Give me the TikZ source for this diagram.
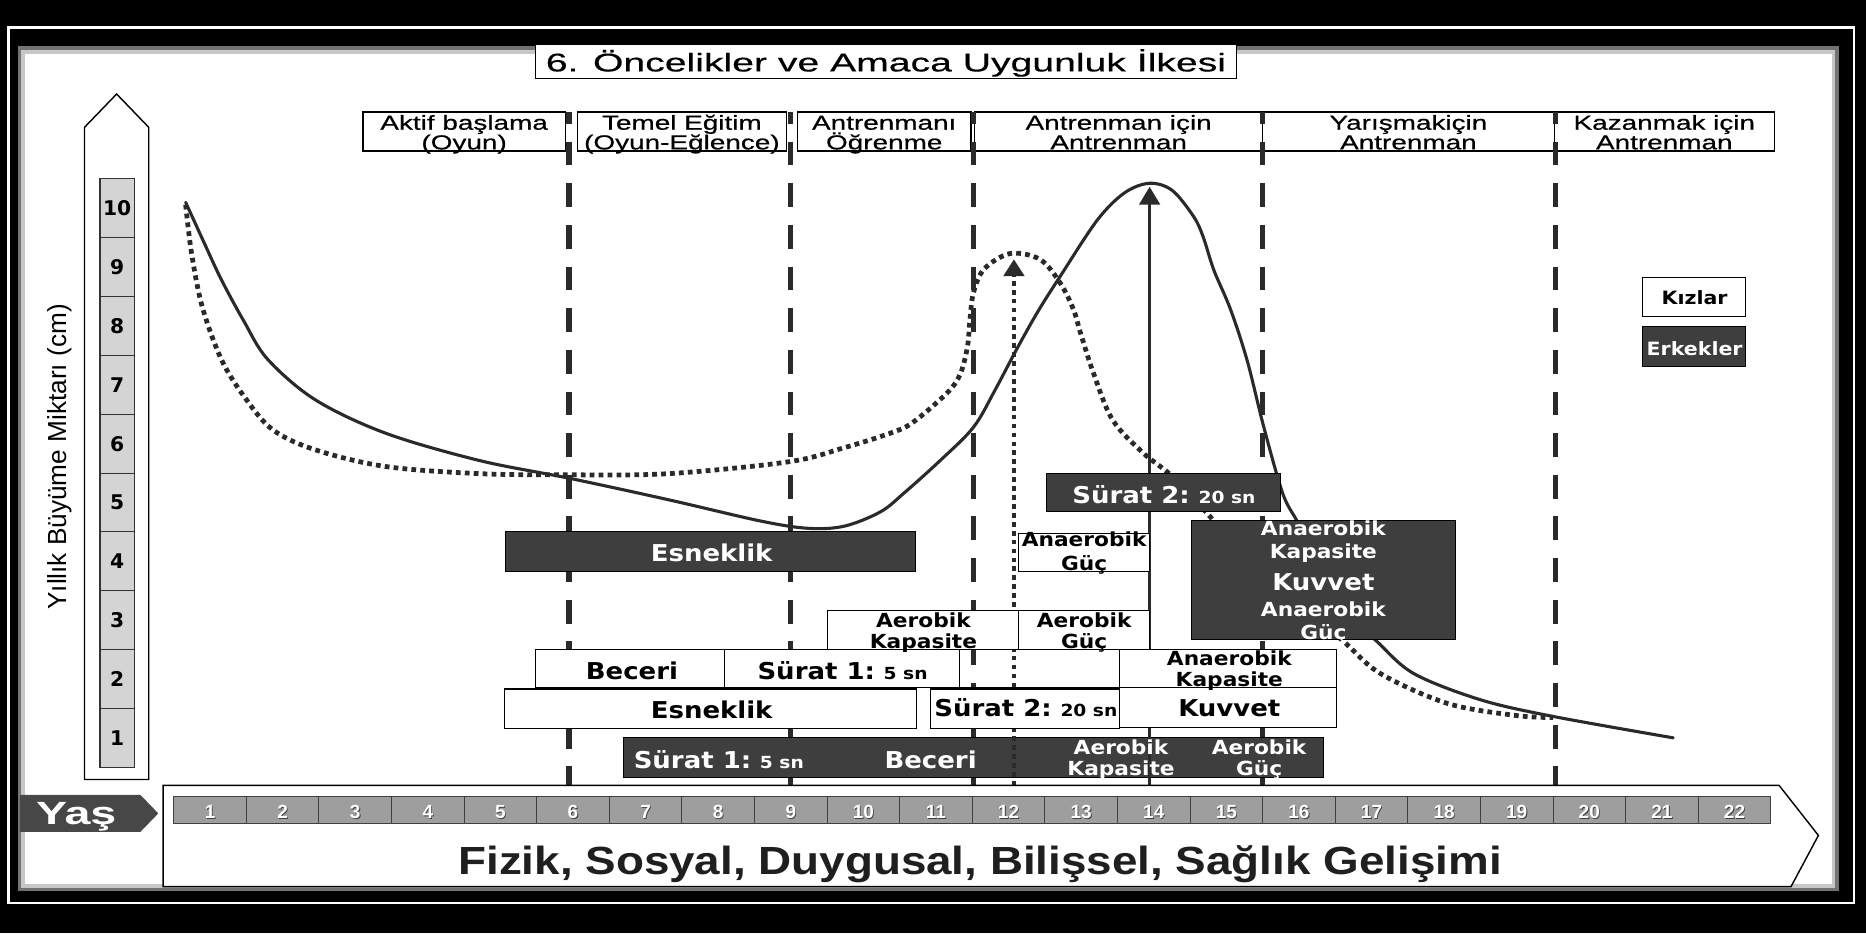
\documentclass[tikz,border=0pt]{standalone}
\usepackage{fontspec}
\setmainfont{Liberation Sans}
\newfontfamily\ttlf[FakeStretch=1.53,FakeBold=0.4]{Liberation Sans}
\newfontfamily\hdrf[FakeStretch=1.38,FakeBold=0.6]{Liberation Sans}
\newfontfamily\btmf[FakeStretch=1.166]{Liberation Sans}
\newfontfamily\yasf[FakeStretch=1.45]{Liberation Sans}
\newfontfamily\bxf[FakeStretch=1.12]{DejaVu Sans}
\newfontfamily\numf{DejaVu Sans}
\usetikzlibrary{arrows.meta}
\definecolor{dk}{HTML}{3E3E3E}
\definecolor{ln}{HTML}{2A2A2A}
\definecolor{cellg}{HTML}{9E9E9E}
\definecolor{lcell}{HTML}{D4D4D4}
\newcommand{\fs}[1]{\fontsize{#1}{#1}\selectfont}
\newcommand{\bxn}[5]{\node[#1,anchor=north west,inner sep=0pt,outer sep=0pt,minimum width=#4,minimum height=#5] (#2) at (#3) {};}
\tikzset{
  wbox/.style={draw=black, line width=1pt, fill=white},
  ebox/.style={draw=black, line width=1pt},
  dbox/.style={draw=black, line width=0.8pt, fill=dk},
  hbox/.style={draw=black, line width=1.1pt, fill=white},
  tx/.style={inner sep=0pt, anchor=base},
  big/.style={tx, font=\bxf\bfseries\fs{19.5}},
  sml/.style={tx, font=\bxf\bfseries\fs{16.3}},
  hdr/.style={tx, font=\hdrf\fs{17}},
  gridl/.style={draw=ln, line width=4.5pt, dash pattern=on 20pt off 15pt, dash phase=10pt},
  solidc/.style={draw=ln, line width=2.6pt},
  dotc/.style={draw=ln, line width=4pt, dash pattern=on 4pt off 3.5pt},
}
\begin{document}
\begin{tikzpicture}[x=1pt,y=-1pt]
\useasboundingbox (0,0) rectangle (1568,784);
% frame
\fill[black] (0,0) rectangle (1568,784);
\draw[white, line width=2pt] (7,23) rectangle (1558,759);
\fill[white] (15,39) rectangle (1545,749);
\draw[black!55, line width=3pt] (16.5,40.5) rectangle (1543.5,747.5);
\draw[black!22, line width=3pt] (19.5,43.5) rectangle (1540.5,744.5);

% title
\bxn{hbox}{ttl}{450,37}{589pt}{29pt}
\node[tx, font=\ttlf\fs{21.5}] (ttltx) at (744.5,60) {6. Öncelikler ve Amaca Uygunluk İlkesi};

% header boxes
\bxn{hbox}{h1}{305,94}{170pt}{33pt}
\bxn{hbox}{h2}{485,94}{176pt}{33pt}
\bxn{hbox}{h3}{670,94}{146pt}{33pt}
\bxn{hbox}{h4}{819,94}{242pt}{33pt}
\bxn{hbox}{h5}{1061,94}{245pt}{33pt}
\bxn{hbox}{h6}{1306,94}{185pt}{33pt}
\node[hdr] (h1a) at (390,109) {Aktif başlama};
\node[hdr] (h1b) at (390,125.5) {(Oyun)};
\node[hdr] (h2a) at (573,109) {Temel Eğitim};
\node[hdr] (h2b) at (573,125.5) {(Oyun-Eğlence)};
\node[hdr] (h3a) at (743,109) {Antrenmanı};
\node[hdr] (h3b) at (743,125.5) {Öğrenme};
\node[hdr] (h4a) at (940,109) {Antrenman için};
\node[hdr] (h4b) at (940,125.5) {Antrenman};
\node[hdr] (h5a) at (1183.5,109) {Yarışmakiçin};
\node[hdr] (h5b) at (1183.5,125.5) {Antrenman};
\node[hdr] (h6a) at (1398.5,109) {Kazanmak için};
\node[hdr] (h6b) at (1398.5,125.5) {Antrenman};

% dashed phase lines
\foreach \gx in {478,664,818,1061,1307}{
  \draw[gridl] (\gx,94) -- (\gx,660);
}

% curves
\draw[solidc, line cap=round] plot[smooth, tension=0.55] coordinates {
 (156,170) (172,205) (186,235) (205,270) (225,302) (265,336) (324,364) (403,387)
 (479,402) (562,420) (640,438) (680,444) (710,442) (740,430) (760,414) (790,387)
 (818,359) (836,328) (854,294) (872,262) (891,232) (922,185) (945,162) (966,154)
 (985,160) (1003,182) (1011,199) (1020,227) (1034,260) (1048,303) (1062,359)
 (1078,415) (1091,440) (1110,480) (1135,518) (1157,539) (1188,566) (1244,588)
 (1305,602) (1406,620)};
\draw[dotc] plot[smooth, tension=0.55] coordinates {
 (156,172) (161,213) (170,258) (186,302) (205,333) (229,361) (265,378) (324,392)
 (403,398) (479,399) (562,398) (663,388) (710,376) (748,364) (767,355) (796,330)
 (807,314) (813,291) (815,269) (818,246) (827,226) (849,213) (874,218) (891,238)
 (902,260) (908,280) (919,314) (935,353) (961,381) (990,405) (1050,470) (1100,515)
 (1129,539) (1160,566) (1216,591) (1272,601) (1305,603)};

% bottom dark band (under the arrows)
\bxn{dbox}{d4}{524,620}{588pt}{33pt}

% arrows
\draw[dotc] (852,660) -- (852,232);
\fill[ln] (852,218) -- (843,232) -- (861,232) -- cycle;
\draw[draw=ln, line width=3pt] (966,660) -- (966,171);
\fill[ln] (966,157) -- (957,172) -- (975,172) -- cycle;

% boxes
\bxn{dbox}{d1}{425,447}{344pt}{33pt}
\bxn{dbox}{d2}{879,398}{197pt}{32pt}
\bxn{dbox}{d3}{1001,437}{222pt}{100pt}
\bxn{wbox}{w3}{856,448}{110pt}{32pt}
\bxn{wbox}{w1}{695,513}{161pt}{33pt}
\bxn{wbox}{w2}{856,513}{110pt}{33pt}
\bxn{wbox}{w4}{450,546}{159pt}{32pt}
\bxn{wbox}{w5}{609,546}{197pt}{32pt}
\bxn{ebox}{w6}{806,546}{135pt}{32pt}
\bxn{wbox}{w7}{941,546}{182pt}{32pt}
\bxn{wbox}{w8}{424,579}{346pt}{33pt}
\bxn{wbox}{w9}{782,579}{159pt}{33pt}
\bxn{wbox}{w10}{941,578}{182pt}{33pt}

% texts in dark boxes
\node[big, white] (t1) at (598,472) {Esneklik};
\node[big, white] (t2) at (978,423) {Sürat 2:{\fs{14} 20 sn}};
\node[sml, white] (t3a) at (1112,450) {Anaerobik};
\node[sml, white] (t3b) at (1112,469) {Kapasite};
\node[big, white] (t3c) at (1112,496) {Kuvvet};
\node[sml, white] (t3d) at (1112,518) {Anaerobik};
\node[sml, white] (t3e) at (1112,537) {Güç};
\node[big, white] (t4a) at (604,645.5) {Sürat 1:{\fs{14} 5 sn}};
\node[big, white] (t4b) at (782,645.5) {Beceri};
\node[sml, white] (t4c) at (942,634) {Aerobik};
\node[sml, white] (t4d) at (942,652) {Kapasite};
\node[sml, white] (t4e) at (1058,634) {Aerobik};
\node[sml, white] (t4f) at (1058,652) {Güç};

% texts in white boxes
\node[sml] (tw3a) at (911,459.5) {Anaerobik};
\node[sml] (tw3b) at (911,479) {Güç};
\node[sml] (tw1a) at (776,527) {Aerobik};
\node[sml] (tw1b) at (776,545) {Kapasite};
\node[sml] (tw2a) at (911,527) {Aerobik};
\node[sml] (tw2b) at (911,545) {Güç};
\node[big] (tw4) at (531,571) {Beceri};
\node[big] (tw5) at (708,571) {Sürat 1:{\fs{14} 5 sn}};
\node[sml] (tw7a) at (1033,559.5) {Anaerobik};
\node[sml] (tw7b) at (1033,577) {Kapasite};
\node[big] (tw8) at (598,603.5) {Esneklik};
\node[big] (tw9) at (862,602) {Sürat 2:{\fs{14} 20 sn}};
\node[big] (tw10) at (1033,602) {Kuvvet};

% legend
\bxn{wbox}{k1}{1380,233}{87pt}{33pt}
\bxn{dbox}{k2}{1380,274}{87pt}{34pt}
\node[tx, font=\bxf\bfseries\fs{15.4}] (k1t) at (1424,256) {Kızlar};
\node[tx, font=\bxf\bfseries\fs{15.4}, white] (k2t) at (1424,298.5) {Erkekler};

% left axis
\draw[fill=white, draw=black, line width=1.2pt] (71,655) -- (71,107) -- (98,79) -- (125,107) -- (125,655) -- cycle;
\foreach \k [evaluate=\k as \yt using 645-49.5*\k] in {1,...,10}{
  \draw[fill=lcell, draw=black!80, line width=0.9pt] (84,\yt) rectangle ++(29,49.5);
  \node[tx, font=\numf\bfseries\fs{17}] (v\k) at (98.5,\yt+31) {\k};
}
\node[rotate=90, font=\fs{22}] (ylab) at (50,384) {Yıllık Büyüme Miktarı (cm)};

% age axis
\draw[fill=white, draw=black, line width=1.2pt] (137,660) -- (1495,660) -- (1528,702) -- (1505,745) -- (137,745) -- cycle;
\foreach \i [evaluate=\i as \xa using 146+61*(\i-1)] in {1,...,22}{
  \draw[fill=cellg, draw=black!75, line width=0.8pt] (\xa,669) rectangle ++(61,23);
  \node[tx, font=\bfseries\fs{16}, black!75] (as\i) at (\xa+31.2,688.2) {\i};
  \node[tx, font=\bfseries\fs{16}, white] (a\i) at (\xa+30.5,687.5) {\i};
}
\fill[black!72] (17,668) -- (118,668) -- (133,683.5) -- (118,699) -- (17,699) -- cycle;
\node[tx, font=\yasf\bfseries\fs{27}, white] (yas) at (64,693) {Yaş};
\node[tx, font=\btmf\bfseries\fs{33}, black!88] (btm) at (823.5,735) {Fizik, Sosyal, Duygusal, Bilişsel, Sağlık Gelişimi};
\end{tikzpicture}
\end{document}
